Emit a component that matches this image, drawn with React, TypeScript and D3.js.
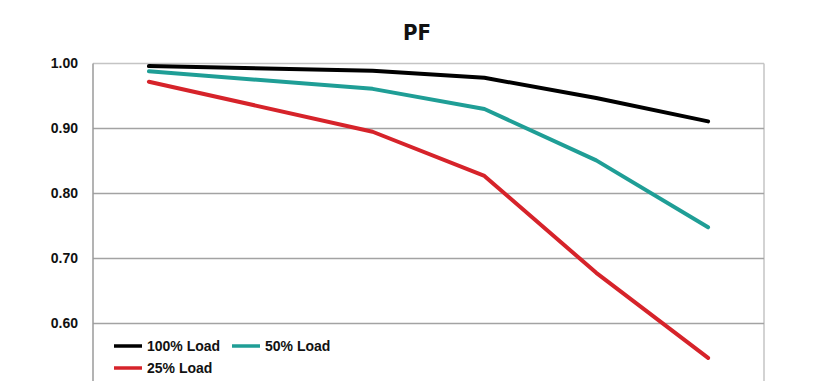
import React from "react";
import * as d3 from "d3";

const categories = ["1", "2", "3", "4", "5", "6"];
const load100: (number | null)[] = [0.996, null, 0.989, 0.978, 0.947, 0.911];
const load50: (number | null)[] = [0.988, null, 0.961, 0.930, 0.851, 0.748];
const load25: (number | null)[] = [0.972, null, 0.895, 0.827, 0.678, 0.547];
const seriesNames = ["100% Load", "50% Load", "25% Load"];
const seriesColors = ["#000000", "#1f9e96", "#d6232a"];
const yTicks = [0.6, 0.7, 0.8, 0.9, 1.0];
const title = "PF";

const W = 813;
const H = 381;
const left = 93;
const right = 764;
const top = 63.5;
const bottom = 388.5;

export default function App() {
  const x = d3.scalePoint<string>().domain(categories).range([left, right]).padding(0.5);
  const y = d3.scaleLinear().domain([0.5, 1.0]).range([bottom, top]);
  const all = [load100, load50, load25];
  const line = d3
    .line<{ c: string; v: number }>()
    .x((d) => x(d.c) as number)
    .y((d) => y(d.v));

  const legendItems = [
    { i: 0, lx: 114, ty: 346 },
    { i: 1, lx: 232, ty: 346 },
    { i: 2, lx: 114, ty: 368 },
  ];

  return (
    <svg
      width={W}
      height={H}
      style={{ position: "absolute", left: 0, top: 0, background: "#fff" }}
      fontFamily="'Liberation Sans', Arial, sans-serif"
    >
      <rect x={0} y={0} width={W} height={H} fill="#fff" />
      <text
        x={417}
        y={40}
        textAnchor="middle"
        fontSize={22}
        fontWeight="bold"
        fontFamily="'Liberation Sans Narrow', 'DejaVu Sans Condensed', sans-serif"
        fill="#111"
      >
        {title}
      </text>
      {/* frame */}
      <line x1={left} x2={right} y1={top} y2={top} stroke="#c4c4c4" strokeWidth={1.5} />
      <line x1={right} x2={right} y1={top} y2={bottom} stroke="#c4c4c4" strokeWidth={1.5} />
      {yTicks
        .filter((t) => t < 1.0)
        .map((t) => (
          <line key={"g" + t} x1={left} x2={right} y1={y(t)} y2={y(t)} stroke="#a3a3a3" strokeWidth={1.5} />
        ))}
      <line x1={left} x2={left} y1={top} y2={bottom} stroke="#9a9a9a" strokeWidth={1.5} />
      {yTicks.map((t) => (
        <text
          key={"t" + t}
          x={78}
          y={y(t) + 4}
          textAnchor="end"
          fontSize={14}
          fontWeight="bold"
          fill="#111"
        >
          {t.toFixed(2)}
        </text>
      ))}
      {all.map((s, i) => {
        const pts = s
          .map((v, j) => ({ c: categories[j], v: v as number }))
          .filter((d, j) => s[j] !== null);
        return (
          <path
            key={"s" + i}
            d={line(pts) || ""}
            fill="none"
            stroke={seriesColors[i]}
            strokeWidth={4}
            strokeLinecap="round"
            strokeLinejoin="round"
          />
        );
      })}
      {legendItems.map(({ i, lx, ty }) => (
        <g key={"l" + i}>
          <line x1={lx} x2={lx + 28} y1={ty} y2={ty} stroke={seriesColors[i]} strokeWidth={3.5} />
          <text x={lx + 33} y={ty + 5} fontSize={14} fontWeight="bold" fill="#111">
            {seriesNames[i]}
          </text>
        </g>
      ))}
    </svg>
  );
}
